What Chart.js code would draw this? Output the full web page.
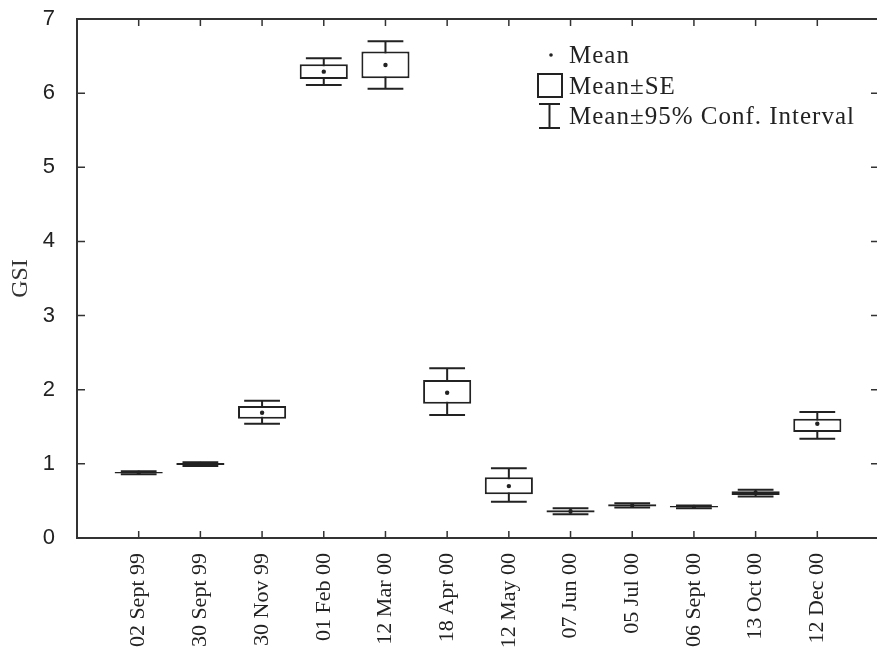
<!DOCTYPE html>
<html>
<head>
<meta charset="utf-8">
<script src="https://cdn.jsdelivr.net/npm/chart.js@4/dist/chart.umd.min.js"></script>
<style>
  html, body { margin: 0; padding: 0; background: #fff; overflow: hidden; }
  /* the original figure is cropped just past its right frame */
  #wrap { width: 877px; height: 655px; overflow: hidden; }
  canvas { display: block; }
</style>
</head>
<body>
<div id="wrap"><canvas id="gsi-chart" width="883" height="655"></canvas></div>
<script>
// sampling dates
const categories = ['02 Sept 99', '30 Sept 99', '30 Nov 99', '01 Feb 00', '12 Mar 00', '18 Apr 00',
  '12 May 00', '07 Jun 00', '05 Jul 00', '06 Sept 00', '13 Oct 00', '12 Dec 00'];
// GSI mean, mean±SE and mean±95% CI
const means  = [0.88, 1.00, 1.69, 6.29, 6.38, 1.96, 0.70, 0.36, 0.44, 0.42, 0.61, 1.54];
const seLow  = [0.87, 0.985, 1.61, 6.19, 6.20, 1.81, 0.59, 0.345, 0.425, 0.41, 0.58, 1.43];
const seHigh = [0.89, 1.01, 1.78, 6.39, 6.56, 2.13, 0.82, 0.375, 0.455, 0.43, 0.63, 1.61];
const ciLow  = [0.86, 0.97, 1.54, 6.11, 6.06, 1.66, 0.49, 0.32, 0.41, 0.40, 0.56, 1.34];
const ciHigh = [0.90, 1.02, 1.85, 6.47, 6.70, 2.29, 0.94, 0.40, 0.47, 0.44, 0.65, 1.70];
const yTicks = [0, 1, 2, 3, 4, 5, 6, 7];

const ink = '#222';
const serif = "'Liberation Serif', 'Times New Roman', serif";
const sans = "'Liberation Sans', Arial, sans-serif";

// whiskers (95% CI) drawn behind the SE boxes
const whiskers = {
  id: 'whiskers',
  beforeDatasetsDraw(chart) {
    const {ctx, scales: {x, y}} = chart;
    ctx.save();
    ctx.strokeStyle = ink;
    ctx.lineWidth = 2;
    categories.forEach((c, i) => {
      const px = x.getPixelForValue(i + 1);
      const l = x.getPixelForValue(i + 1 - 0.29);
      const r = x.getPixelForValue(i + 1 + 0.29);
      const top = y.getPixelForValue(ciHigh[i]);
      const bot = y.getPixelForValue(ciLow[i]);
      ctx.beginPath();
      ctx.moveTo(px, top); ctx.lineTo(px, bot);
      ctx.moveTo(l, top); ctx.lineTo(r, top);
      ctx.moveTo(l, bot); ctx.lineTo(r, bot);
      ctx.stroke();
    });
    ctx.restore();
  }
};

// frame, inward ticks on all four sides, legend
const frame = {
  id: 'frame',
  afterDraw(chart) {
    const {ctx, chartArea: a, scales: {x, y}} = chart;
    ctx.save();
    ctx.strokeStyle = '#333';
    ctx.lineWidth = 2;
    ctx.strokeRect(a.left, a.top, a.right - a.left, a.bottom - a.top);
    ctx.lineWidth = 1.5;
    ctx.beginPath();
    yTicks.forEach(v => {
      const py = y.getPixelForValue(v);
      ctx.moveTo(a.left, py); ctx.lineTo(a.left + 8, py);
      ctx.moveTo(a.right, py); ctx.lineTo(a.right - 8, py);
    });
    categories.forEach((c, i) => {
      const px = x.getPixelForValue(i + 1);
      ctx.moveTo(px, a.bottom); ctx.lineTo(px, a.bottom - 7);
      ctx.moveTo(px, a.top); ctx.lineTo(px, a.top + 7);
    });
    ctx.stroke();

    // legend
    ctx.fillStyle = ink;
    ctx.strokeStyle = ink;
    ctx.lineWidth = 2;
    ctx.beginPath();
    ctx.arc(551, 55, 1.8, 0, Math.PI * 2);
    ctx.fill();
    ctx.strokeRect(538, 74, 24, 23);
    ctx.beginPath();
    ctx.moveTo(539, 104); ctx.lineTo(560, 104);
    ctx.moveTo(549.5, 104); ctx.lineTo(549.5, 128);
    ctx.moveTo(539, 128); ctx.lineTo(560, 128);
    ctx.stroke();
    ctx.font = '25px ' + serif;
    ctx.letterSpacing = '1px';
    ctx.textBaseline = 'middle';
    ctx.fillText('Mean', 569, 56);
    ctx.fillText('Mean±SE', 569, 87);
    ctx.fillText('Mean±95% Conf. Interval', 569, 117);
    ctx.restore();
  }
};

const ctx = document.getElementById('gsi-chart').getContext('2d');

const gsiChart = new Chart(ctx, {
  data: {
    datasets: [{
      type: 'scatter',
      label: 'Mean',
      data: means.map((m, i) => ({x: i + 1, y: m})),
      pointRadius: 2.2,
      pointBackgroundColor: ink,
      pointBorderWidth: 0,
      order: 0,
    }, {
      type: 'bar',
      label: 'Mean±SE',
      data: seLow.map((lo, i) => ({x: i + 1, y: [lo, seHigh[i]]})),
      backgroundColor: '#fff',
      borderColor: ink,
      borderWidth: 2,
      borderSkipped: false,
      barPercentage: 1,
      categoryPercentage: 0.78,
      order: 1,
    }],
  },
  options: {
    responsive: false,
    devicePixelRatio: 1,
    animation: false,
    layout: { padding: { top: 19, right: 1, left: 0, bottom: 0 } },
    plugins: {
      legend: { display: false },
      tooltip: { enabled: false },
    },
    scales: {
      x: {
        type: 'linear',
        min: 0,
        max: 13,
        offset: false,
        afterBuildTicks: scale => { scale.ticks = categories.map((c, i) => ({value: i + 1})); },
        afterFit: scale => {
          scale.height = 117;
          scale.paddingLeft = 0;
          scale.paddingRight = 0;
        },
        grid: { display: false, offset: false },
        border: { display: false },
        ticks: {
          autoSkip: false,
          minRotation: 90,
          maxRotation: 90,
          padding: 7,
          color: ink,
          font: { family: serif, size: 22 },
          callback: v => categories[v - 1],
        },
      },
      y: {
        min: 0,
        max: 7,
        afterBuildTicks: scale => { scale.ticks = yTicks.map(v => ({value: v})); },
        afterFit: scale => {
          scale.width = 77;
          scale.paddingTop = 0;
          scale.paddingBottom = 0;
        },
        grid: { display: false },
        border: { display: false },
        ticks: {
          padding: 14,
          color: ink,
          font: { family: sans, size: 22 },
        },
        title: {
          display: true,
          text: 'GSI',
          color: '#333',
          padding: { top: 6, bottom: 0 },
          font: { family: serif, size: 24 },
        },
      },
    },
  },
  plugins: [whiskers, frame],
});
</script>
</body>
</html>
